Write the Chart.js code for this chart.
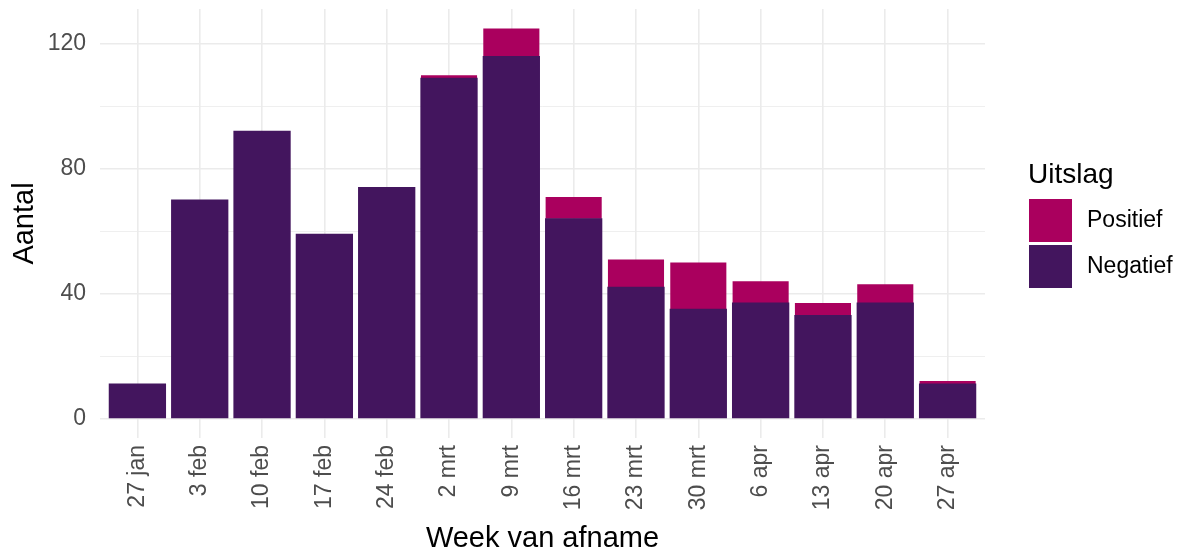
<!DOCTYPE html>
<html>
<head>
<meta charset="utf-8">
<script src="https://cdn.jsdelivr.net/npm/chart.js@4.4.1/dist/chart.umd.min.js"></script>
<style>
  html, body { margin: 0; padding: 0; background: #fff; }
  #wrap { width: 1184px; height: 551px; position: relative; }
</style>
</head>
<body>
<div id="wrap"><canvas id="chart"></canvas></div>
<script>
// weken en aantallen
const weeks = ["27 jan", "3 feb", "10 feb", "17 feb", "24 feb", "2 mrt", "9 mrt",
  "16 mrt", "23 mrt", "30 mrt", "6 apr", "13 apr", "20 apr", "27 apr"];
const negatief = [11, 70, 92, 59, 74, 109, 116, 64, 42, 35, 37, 33, 37, 11];
const positief = [0, 0, 0, 0, 0, 1, 9, 7, 9, 15, 7, 4, 6, 1];
const yLabels = [0, 40, 80, 120];

const FONT = "'Liberation Sans', Arial, sans-serif";
const NEG_COL = "#43155e";
const POS_COL = "#aa005e";
const GRID = "#ebebeb";

// legenda zelf tekenen, rechts naast het paneel
const legendPlugin = {
  id: "uitslagLegend",
  afterDraw(chart) {
    const ctx = chart.ctx;
    ctx.save();
    ctx.fillStyle = "#000";
    ctx.font = "28px " + FONT;
    ctx.textBaseline = "alphabetic";
    ctx.fillText("Uitslag", 1028, 183);
    const items = [
      { label: "Positief", color: POS_COL, y: 199 },
      { label: "Negatief", color: NEG_COL, y: 245 },
    ];
    ctx.font = "23px " + FONT;
    ctx.textBaseline = "middle";
    items.forEach(it => {
      ctx.fillStyle = it.color;
      ctx.fillRect(1029, it.y, 43, 43);
      ctx.fillStyle = "#000";
      ctx.fillText(it.label, 1087, it.y + 22);
    });
    ctx.restore();
  }
};

const data = {
  datasets: [
    {
      label: "Negatief",
      data: weeks.map((w, i) => ({ x: i, y: negatief[i] })),
      backgroundColor: NEG_COL,
      barPercentage: 0.9,
      categoryPercentage: 1.0,
      inflateAmount: 0.6,
    },
    {
      label: "Positief",
      data: weeks.map((w, i) => ({ x: i, y: positief[i] })),
      backgroundColor: POS_COL,
      barPercentage: 0.9,
      categoryPercentage: 1.0,
      inflateAmount: 0,
    },
  ],
};

new Chart(document.getElementById("chart"), {
  type: "bar",
  data: data,
  plugins: [legendPlugin],
  options: {
    responsive: true,
    maintainAspectRatio: false,
    animation: false,
    layout: { padding: { top: 9, right: 199, left: 0, bottom: 0 } },
    plugins: {
      legend: { display: false },
      tooltip: { enabled: false },
    },
    scales: {
      x: {
        type: "linear",
        stacked: true,
        offset: false,
        min: -0.6,
        max: 13.6,
        border: { display: false },
        grid: { color: GRID, lineWidth: 1.6, drawTicks: false, offset: false },
        ticks: {
          stepSize: 1,
          includeBounds: false,
          autoSkip: false,
          maxRotation: 90,
          minRotation: 90,
          padding: 7,
          color: "#4d4d4d",
          font: { family: FONT, size: 23 },
          callback: v => (Number.isInteger(v) ? weeks[v] : ""),
        },
        title: {
          display: true,
          text: "Week van afname",
          color: "#000",
          font: { family: FONT, size: 29, lineHeight: 0.8 },
          padding: { top: 2, bottom: 0 },
        },
        afterFit: s => { s.height = 113; s.paddingLeft = 0; s.paddingRight = 0; },
      },
      y: {
        stacked: true,
        min: -6.25,
        max: 131.25,
        border: { display: false },
        grid: {
          color: GRID,
          drawTicks: false,
          lineWidth: c => (yLabels.includes(c.tick.value) ? 1.6 : 0.8),
        },
        ticks: {
          stepSize: 20,
          includeBounds: false,
          padding: 14,
          color: "#4d4d4d",
          font: { family: FONT, size: 23 },
          callback: v => (yLabels.includes(v) ? String(v) : ""),
        },
        title: {
          display: true,
          text: "Aantal",
          color: "#000",
          font: { family: FONT, size: 29 },
          padding: { top: 8, bottom: 0 },
        },
        afterFit: s => { s.width = 100; s.paddingTop = 0; s.paddingBottom = 0; },
      },
    },
  },
});
</script>
</body>
</html>
